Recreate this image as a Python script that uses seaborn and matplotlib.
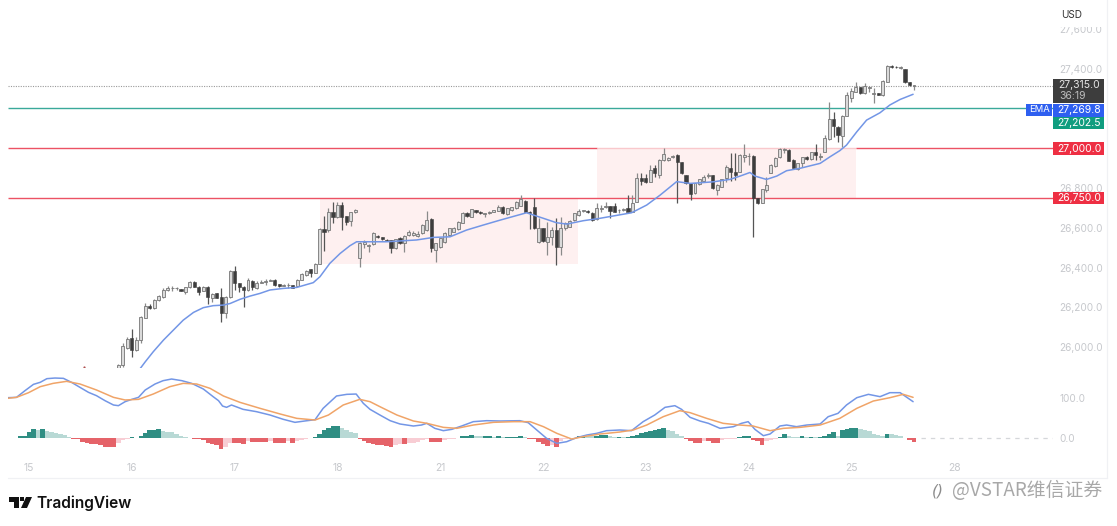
import numpy as np
import pandas as pd
import seaborn as sns
import matplotlib
matplotlib.use("Agg")
import matplotlib.pyplot as plt
from matplotlib.patches import Rectangle, Polygon
from matplotlib.lines import Line2D

# ---------- data ----------
first_candle = 20
opens = [25892,25909,25993,26043,25984,26035,26144,26206,26194,26236,26253,26287,26295,26296,26290,26278,26300,26329,26303,26283,26303,26245,26270,26250,26169,26253,26382,26320,26303,26287,26332,26295,26323,26328,26333,26337,26315,26309,26311,26312,26307,26337,26362,26391,26374,26418,26594,26589,26678,26656,26715,26660,26636,26681,
 26446,26520,26510,26518,26559,26552,26540,26538,26497,26547,26522,26564,26564,26559,26572,26589,26644,26488,26505,26530,26564,26581,26592,26626,26676,26656,26690,26681,26671,26677,26682,26686,26707,26670,26690,26698,26710,26737,26681,26703,26530,26597,26530,26555,26589,26505,26597,26606,26639,26665,26683,26686,26676,26643,26696,26704,26710,26710,26688,26690,26698,26681,
 26732,26852,26850,26833,26900,26866,26942,26942,26958,26967,26930,26866,26824,26774,26821,26837,26860,26866,26790,26807,26849,26900,26883,26883,26958,26960,26962,26748,26727,26790,26878,26911,26955,26992,26992,26942,26896,26925,26958,26947,26980,26958,26984,27046,27148,27110,27063,27165,27252,27286,27308,27278,27306,27276,27278,27269,27336,27417,27409,27406,27400,27333,27316]
highs = [25912,26018,26051,26093,26051,26156,26219,26216,26240,26262,26295,26307,26307,26303,26292,26302,26333,26333,26305,26305,26305,26270,26272,26298,26256,26387,26408,26322,26305,26345,26335,26330,26335,26340,26342,26342,26317,26318,26320,26314,26340,26372,26388,26395,26422,26600,26660,26698,26728,26730,26732,26662,26680,26695,
 26528,26539,26518,26578,26564,26554,26543,26540,26546,26552,26562,26590,26585,26582,26618,26685,26648,26525,26550,26581,26601,26604,26636,26681,26679,26697,26692,26683,26677,26685,26691,26715,26710,26702,26707,26737,26765,26740,26683,26749,26648,26600,26631,26606,26648,26653,26630,26640,26676,26693,26691,26688,26678,26723,26715,26732,26712,26727,26695,26700,26765,26765,
 26875,26875,26870,26917,26917,26946,27001,26958,26968,26970,26932,26868,26826,26828,26848,26866,26874,26868,26819,26848,26916,26975,26975,26970,27021,26975,26966,26750,26797,26858,26920,26957,27004,27000,26996,26945,26928,26958,26960,26984,27021,26975,27068,27236,27185,27112,27170,27286,27303,27333,27310,27331,27314,27303,27280,27345,27420,27420,27414,27418,27402,27335,27322]
lows = [25890,25900,25989,25951,25981,26018,26144,26189,26190,26232,26245,26283,26283,26287,26280,26266,26298,26300,26261,26280,26216,26228,26245,26127,26144,26248,26287,26278,26203,26284,26287,26292,26320,26312,26330,26309,26304,26306,26295,26295,26305,26335,26360,26354,26372,26416,26483,26580,26623,26650,26589,26614,26611,26675,
 26401,26497,26480,26515,26548,26539,26533,26471,26494,26520,26480,26558,26560,26555,26568,26586,26480,26429,26500,26525,26558,26577,26588,26622,26657,26653,26675,26671,26656,26672,26678,26684,26670,26665,26687,26695,26708,26678,26592,26594,26525,26530,26463,26513,26413,26463,26590,26603,26636,26662,26680,26676,26636,26640,26681,26700,26648,26678,26673,26686,26678,26678,
 26728,26816,26824,26830,26858,26850,26938,26938,26950,26724,26870,26820,26740,26770,26818,26834,26849,26796,26765,26804,26832,26837,26841,26880,26933,26916,26555,26720,26723,26782,26875,26908,26952,26975,26935,26900,26893,26908,26944,26944,26942,26942,26980,27042,27059,27034,27005,27162,27236,27283,27275,27275,27286,27227,27267,27266,27333,27405,27404,27402,27330,27317,27294]
closes = [25909,26006,26038,25984,26035,26149,26206,26198,26236,26258,26287,26298,26299,26299,26283,26300,26329,26303,26278,26303,26253,26265,26248,26169,26253,26382,26320,26303,26287,26337,26303,26324,26327,26332,26337,26312,26307,26313,26313,26298,26337,26367,26384,26371,26418,26594,26581,26678,26656,26715,26656,26631,26678,26690,
 26525,26527,26514,26572,26552,26542,26536,26497,26542,26525,26559,26578,26575,26570,26614,26639,26497,26522,26547,26572,26597,26601,26631,26676,26660,26693,26678,26673,26674,26682,26688,26707,26673,26698,26703,26732,26744,26681,26673,26597,26597,26534,26555,26589,26505,26597,26623,26636,26673,26686,26688,26678,26639,26698,26700,26709,26686,26681,26692,26696,26681,26727,
 26850,26835,26833,26892,26875,26942,26971,26954,26964,26930,26875,26824,26770,26824,26844,26858,26866,26799,26816,26844,26905,26883,26866,26967,26967,26964,26748,26723,26794,26816,26916,26953,26995,26996,26938,26903,26925,26955,26947,26980,26967,26962,27051,27148,27113,27068,27165,27269,27291,27308,27278,27316,27310,27280,27269,27341,27417,27409,27408,27410,27333,27320,27319]

ema_hours = [24.9,26,27.8,30.1,32.3,34.5,36.8,39,41.2,43.5,45,47.2,49.4,51.7,53.9,56.9,59.9,63.6,65.1,67.3,69.6,71.8,73.3,75.5,80,83,86.7,90.5,94.2,97.9,101.6,105.4,111.3,115.1,118,120.3,124,127.7,134.8,138.2,141.2,144.9,147.9,150.1,153.1,156.8,159.1,161.3,162.4,165,167.3,169.5,172.5,177,179.2,181.4,182.9,185.2,187.4,190.4,192.6,194.9,197.8]
ema_values = [25892,25925,25976,26035,26085,26135,26174,26198,26208,26211,26219,26240,26256,26270,26287,26295,26300,26324,26354,26421,26471,26510,26530,26530,26530,26534,26539,26552,26555,26589,26614,26639,26676,26648,26626,26619,26636,26648,26676,26715,26765,26833,26824,26827,26832,26844,26861,26879,26861,26844,26861,26888,26900,26925,26958,26989,27017,27084,27143,27180,27219,27247,27273]

macd_hours = [-4.8,-2.8,-0.9,1,2.5,4,5.8,7.7,9.5,11.4,13.3,15.1,17,18.9,20,21.5,23,24.5,26,28.2,30,31.9,34.2,36.4,39,41.2,42.4,43.3,44.2,45.3,47.9,50.9,53.9,56.9,59.5,61.7,64,65.8,68.8,71.1,73.2,74.8,76.3,78.5,80.8,83,86,87.8,89,90.8,92.7,94.6,96.8,99.4,102.4,105.4,109.8,111.7,113.6,115.8,118.1,120.3,122.5,124.8,127,129.2,132.2,134.8,137.4,140,142.3,144.5,146,147.9,150.1,152,154.6,157.6,159.4,160.9,162.4,164.3,165.8,168,169.5,171.7,174,177,178.8,181,182.9,185.2,187.8,190.4,192.6,194.9,196.4,197.8]
macd_values = [100.8,101.7,118.6,134.6,139.7,149,150.6,149.8,139.7,127,114.4,105.9,93.3,82.3,80.6,90.7,96.6,101.7,120.3,135.5,143.9,148.1,143.9,137.1,122.8,103.4,93.3,79.7,76.4,82.3,71.3,65.4,57,46,38.4,41.8,45.1,73.8,105.1,109.3,110.1,86.5,71.3,57,42.6,34.2,29.1,31.6,35.9,23.2,17.3,20.7,29.1,40.1,42.6,41.8,42.6,37.5,19,-2.1,-14.8,-10.6,-0.4,6.3,10.5,17.3,19,17.3,40.1,57,76.4,80.6,71.3,51.1,41.8,35.9,23.2,27.4,35.9,40.1,20.7,4.6,8.9,29.1,31.6,27.4,31.6,34.2,52.7,61.2,82.3,100.8,109.3,103.4,113.5,113.5,101.7,90.7]
signal_hours = [-4.8,-2.8,-0.1,2.5,5.4,8.4,11.4,15.1,18.9,21.5,24.5,27.8,31.5,34.5,37.5,40.5,43.5,47.2,51.7,56.2,59.9,64,67,70.3,74,76.3,78.5,82.3,86,89,92.7,95.7,99.4,103.9,108.4,112.1,115.1,118.1,121.4,124,127.8,132.2,135.2,138.2,141.9,145.6,147.9,151.6,155.3,159,162,165.8,168.8,172.5,177,181.4,185.2,188.9,192.6,195.6,197.8]
signal_values = [99.2,101.7,113.5,128.7,137.1,142.2,135.5,120.3,101.7,95,96.6,110.1,128.7,137.1,135.5,124.5,105.1,89,73.8,59.5,48.5,44.3,57,82.3,96.6,90.7,78.1,57,41.8,35.9,25.7,23.2,31.6,38.4,40.1,40.1,27.4,10.5,-3.8,2.1,8.9,13.9,19,31.6,52.7,67.9,62.9,48.5,35.9,31.6,29.1,17.3,23.2,25.7,31.6,48.5,73.8,92.4,100.8,109.3,101.7]
first_hist = -4
hist_values = [-2,-2,3,5,13,21,19,21,17,14,12,8,6,2,
 -3,-5,-11,-15,-17,-17,-20,-23,-23,-24,-15,-7,-3,
 1,0,4,12,19,20,22,17,15,13,8,4,2,0,
 -3,-3,-7,-14,-17,-20,-30,-25,-15,-15,-15,-17,-10,-12,-12,-12,-12,-10,-13,-14,-14,-10,-15,-8,-6,-3,-2,
 1,10,19,25,28,30,25,19,15,12,
 -3,-10,-15,-17,-19,-20,-22,-24,-20,-17,-17,-15,-13,-12,-7,-3,
 -11,-12,-12,-7,-4,-3,
 0,3,4,6,4,3,3,3,2,3,1,1,1,2,3,2,
 -3,-4,-12,-17,-22,-20,-25,-8,-3,-1,
 0,3,5,4,3,4,6,7,3,2,2,1,1,3,7,12,15,17,19,22,24,20,17,10,4,
 -3,-8,-13,-14,-8,-10,-15,-15,-7,-5,-4,-3,
 1,3,3,
 -7,-8,-19,-10,-7,-3,
 2,8,3,2,1,3,1,2,1,2,3,10,14,5,19,22,24,25,22,20,17,10,6,5,10,8,7,3,
 -2,-7,-12]

day_ticks = [0,23,46,69,92,115,138,161,184,207]
day_labels = ["15","16","17","18","21","22","23","24","25","28"]
price_ticks = [26000,26200,26400,26600,26800,27400,27600]
last_price, ema_last, green_level, res_level, sup_level = 27315.0, 27269.8, 27202.5, 27000.0, 26750.0
zone_a = (65.1, 122.8, 26418, 26750)
zone_b = (127.1, 185.0, 26750, 27000)

assert len(opens) == len(highs) == len(lows) == len(closes)
assert len(ema_hours) == len(ema_values) and len(macd_hours) == len(macd_values) and len(signal_hours) == len(signal_values)

# ---------- figure ----------
sns.set_theme(style="white")
plt.rcParams["font.family"] = ["Inter", "DejaVu Sans"]
W, H = 1117, 526
fig = plt.figure(figsize=(W / 100, H / 100), dpi=100, facecolor="white")

def axes_px(x0, y0, x1, y1):
    return fig.add_axes([x0 / W, 1 - y1 / H, (x1 - x0) / W, (y1 - y0) / H])

def box(x, y, w, h, color, z=3):
    fig.add_artist(Rectangle((x / W, 1 - (y + h) / H), w / W, h / H, transform=fig.transFigure,
                             facecolor=color, edgecolor="none", zorder=z))

def label(x, y, s, color="white", size=7.5, ha="center", **kw):
    fig.text(x / W, 1 - y / H, s, color=color, fontsize=size, ha=ha, va="center", zorder=4, **kw)

x_range = (-4.7, 229.1)
ax = axes_px(8, 0, 1053, 368)
mx = axes_px(8, 368, 1053, 458)
GREY = "#c6c8cc"

# zones and levels
for z in (zone_a, zone_b):
    ax.fill_between([z[0], z[1]], z[2], z[3], color="#fef0f0", lw=0, zorder=0)
ax.hlines(last_price, *x_range, color="#9a9a9a", lw=0.8, linestyles=(0, (1, 1.2)), zorder=1)
ax.hlines(green_level, *x_range, color="#3aa99a", lw=1.0, zorder=1)
ax.hlines(sup_level, *x_range, color="#ec5264", lw=1.0, zorder=1)
ax.hlines(res_level, x_range[0], zone_b[0], color="#ec5264", lw=1.0, zorder=1)
ax.hlines(res_level, zone_b[0], zone_b[1], color="#f9c8cc", lw=1.0, zorder=1)
ax.hlines(res_level, zone_b[1], x_range[1], color="#ec5264", lw=1.0, zorder=1)

# candles
hours = np.arange(first_candle, first_candle + len(opens))
o, h, l, c = map(np.array, (opens, highs, lows, closes))
up = c >= o
ax.vlines(hours[up], l[up], h[up], color="#8a8a8a", lw=0.9, zorder=2)
ax.vlines(hours[~up], l[~up], h[~up], color="#555555", lw=0.9, zorder=2)
ax.bar(hours[up], np.maximum(c - o, 3)[up], bottom=o[up], width=0.66, facecolor="#dadada",
       edgecolor="#767676", lw=0.6, zorder=3)
ax.bar(hours[~up], np.maximum(o - c, 3)[~up], bottom=c[~up], width=0.7, facecolor="#3d3d3d",
       edgecolor="#3d3d3d", lw=0.4, zorder=3)
ax.scatter([12.3], [25900], s=2.5, color="#b05050", zorder=3, linewidths=0)

# EMA
ema_df = pd.DataFrame({"hour": ema_hours, "ema": ema_values})
sns.lineplot(data=ema_df, x="hour", y="ema", ax=ax, color="#7396e6", lw=1.1, estimator=None, zorder=4)

ax.set_xlim(*x_range)
ax.set_ylim(25894, 27748)
ax.set_xlabel(""); ax.set_ylabel("")
ax.set_xticks([])
ax.yaxis.tick_right()
ax.set_yticks(price_ticks, [f"{t:,.1f}" for t in price_ticks])
ax.tick_params(axis="y", length=0, pad=4.5, labelsize=7.2, labelcolor=GREY)
sns.despine(ax=ax, left=True, bottom=True, right=True, top=True)

# MACD pane
hist = np.array(hist_values, dtype=float)
hist_hours = np.arange(first_hist, first_hist + len(hist))
prev = np.r_[hist[0], hist[:-1]]
kind = np.where(hist >= 0, np.where(hist >= prev, "up_strong", "up_weak"),
                np.where(hist <= prev, "dn_strong", "dn_weak"))
hist_df = pd.DataFrame({"hour": hist_hours, "hist": hist, "kind": kind})
sns.barplot(data=hist_df, x="hour", y="hist", hue="kind", ax=mx, native_scale=True, dodge=False, width=1.0,
            palette={"up_strong": "#1f9e8f", "up_weak": "#b2dfd9", "dn_strong": "#fb4d55", "dn_weak": "#ffc6cf"},
            legend=False, linewidth=0, zorder=2)
mx.hlines(0, 199.5, x_range[1], color="#d5d7da", lw=0.9, linestyles=(0, (3.5, 4)), zorder=1)
sns.lineplot(x=macd_hours, y=macd_values, ax=mx, color="#7396e6", lw=1.1, estimator=None, zorder=3)
sns.lineplot(x=signal_hours, y=signal_values, ax=mx, color="#f0a468", lw=1.1, estimator=None, zorder=4)
mx.set_xlim(*x_range)
mx.set_ylim(-51.9, 176)
mx.set_xlabel(""); mx.set_ylabel("")
mx.set_xticks(day_ticks, day_labels)
mx.tick_params(axis="x", length=0, pad=3.5, labelsize=7.4, labelcolor=GREY)
mx.yaxis.tick_right()
mx.set_yticks([0, 100], ["0.0", "100.0"])
mx.tick_params(axis="y", length=0, pad=4.5, labelsize=7.2, labelcolor=GREY)
sns.despine(ax=mx, left=True, bottom=True, right=True, top=True)

# panel edges
for (x0, y0, x1, y1) in [(8, 478, 1107, 478), (1107, 0, 1107, 478)]:
    fig.add_artist(Line2D([x0 / W, x1 / W], [1 - y0 / H, 1 - y1 / H], color="#f0f1f4", lw=0.9, transform=fig.transFigure))

# price tags
box(1055, 5, 50, 22, "white")
label(1072, 15, "USD", color="#333333", size=7.2)
box(1053, 79, 51, 24, "#3d3d3d")
label(1079, 85, f"{last_price:,.1f}", color="#e6e6e6")
label(1073, 96, "36:19", color="#bdbdbd")
box(1053, 104, 51, 13, "#2e5ff0")
label(1079, 110, f"{ema_last:,.1f}")
box(1026, 104, 26, 12, "#2e5ff0")
label(1039, 110, "EMA", size=6.8)
box(1053, 117, 51, 12, "#0f9d7f")
label(1079, 123, f"{green_level:,.1f}")
box(1053, 142, 51, 13, "#ee2f43")
label(1079, 149, f"{res_level:,.1f}")
box(1053, 192, 51, 12, "#ee2f43")
label(1079, 198, f"{sup_level:,.1f}")

# TradingView logo
def poly(points, color="#111111"):
    fig.add_artist(Polygon([(x / W, 1 - y / H) for x, y in points], closed=True, transform=fig.transFigure,
                           facecolor=color, edgecolor="none", zorder=4))
poly([(9, 497), (19, 497), (19, 508), (14, 508), (14, 502), (9, 502)])
poly([(20, 497), (24, 497), (24, 501), (20, 501)])
poly([(26, 497), (32, 497), (27, 508), (21, 508)])
label(36, 503, "TradingView", color="#111111", size=11.2, ha="left", weight="semibold")

# watermark
label(932, 491, "()", color="#8c8c8c", size=11, ha="left", style="italic", family=["DejaVu Sans"])
label(952, 491, "@VSTAR维信证券", color="#a8a8a8", size=13.6, ha="left", family=["Noto Sans CJK SC", "DejaVu Sans"])

fig.savefig("out.png", dpi=100)
